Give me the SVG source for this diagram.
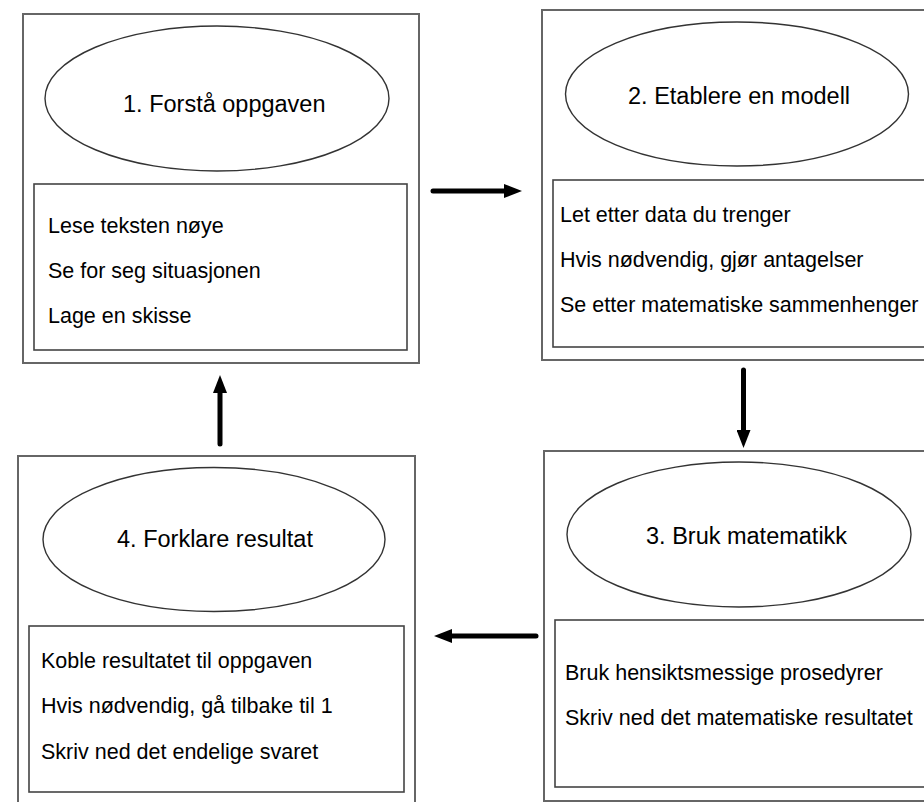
<svg xmlns="http://www.w3.org/2000/svg" width="924" height="802" viewBox="0 0 924 802">
<style>
.outer{fill:#fff;stroke:#666;stroke-width:2}
.inner{fill:#fff;stroke:#444;stroke-width:1.6}
.ell{fill:#fff;stroke:#333;stroke-width:1.4}
.title{font-family:"Liberation Sans",Arial,sans-serif;font-size:23.5px;fill:#000}
.body{font-family:"Liberation Sans",Arial,sans-serif;font-size:21.5px;fill:#000}
.conn{stroke:#000;stroke-width:5;stroke-linecap:round;fill:none;marker-end:url(#ah)}
</style>
<defs>
<marker id="ah" markerUnits="userSpaceOnUse" markerWidth="18" markerHeight="14" viewBox="0 0 18 14" refX="2" refY="7" orient="auto">
<path d="M0,0 L18,7 L0,14 z" fill="#000"/>
</marker>
</defs>
<rect width="924" height="802" fill="#fff"/>
<g id="node1">
<rect class="outer" x="23" y="14" width="396" height="349"/>
<ellipse class="ell" cx="217" cy="98.5" rx="172" ry="72.5"/>
<text class="title" x="123" y="112">1. Forstå oppgaven</text>
<rect class="inner" x="34" y="184" width="373" height="166"/>
<text class="body" x="48" y="233">Lese teksten nøye</text>
<text class="body" x="48" y="278">Se for seg situasjonen</text>
<text class="body" x="48" y="323">Lage en skisse</text>
</g>
<g id="node2">
<rect class="outer" x="542" y="10" width="400" height="350"/>
<ellipse class="ell" cx="737" cy="94" rx="171.5" ry="72"/>
<text class="title" x="628" y="104">2. Etablere en modell</text>
<rect class="inner" x="553" y="180" width="400" height="167"/>
<text class="body" x="560" y="221.7">Let etter data du trenger</text>
<text class="body" x="560" y="266.7">Hvis nødvendig, gjør antagelser</text>
<text class="body" x="560" y="311.7">Se etter matematiske sammenhenger</text>
</g>
<g id="node3">
<rect class="outer" x="544" y="451" width="400" height="350"/>
<ellipse class="ell" cx="739" cy="534.5" rx="172" ry="72.5"/>
<text class="title" x="646" y="544">3. Bruk matematikk</text>
<rect class="inner" x="555" y="620" width="400" height="167"/>
<text class="body" x="565" y="680">Bruk hensiktsmessige prosedyrer</text>
<text class="body" x="565" y="725">Skriv ned det matematiske resultatet</text>
</g>
<g id="node4">
<rect class="outer" x="18" y="456" width="397" height="360"/>
<ellipse class="ell" cx="214" cy="539.5" rx="171" ry="72"/>
<text class="title" x="117" y="546.7">4. Forklare resultat</text>
<rect class="inner" x="29" y="626" width="375" height="166"/>
<text class="body" x="41" y="668">Koble resultatet til oppgaven</text>
<text class="body" x="41" y="713">Hvis nødvendig, gå tilbake til 1</text>
<text class="body" x="41" y="759">Skriv ned det endelige svaret</text>
</g>
<g id="connectors">
<line class="conn" x1="433" y1="191" x2="506" y2="191"/>
<line class="conn" x1="743.5" y1="370" x2="743.5" y2="432"/>
<line class="conn" x1="536" y1="636" x2="450" y2="636"/>
<line class="conn" x1="220" y1="444" x2="220" y2="391"/>
</g>
</svg>
